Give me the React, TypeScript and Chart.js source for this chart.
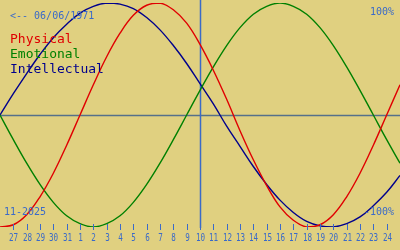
import React, { useEffect, useRef } from "react";
import { Chart, registerables } from "chart.js";

Chart.register(...registerables);

// Day index 0..30 (Oct 26 .. Nov 25, 2025); today = index 15 (Nov 10)
const DAY_INDEX = Array.from({ length: 31 }, (_, i) => i);
const DAY_LABELS = [
  "27", "28", "29", "30", "31", "1", "2", "3", "4", "5", "6", "7", "8", "9", "10",
  "11", "12", "13", "14", "15", "16", "17", "18", "19", "20", "21", "22", "23", "24",
];
const TODAY_INDEX = 15;

const PHYSICAL = [
  -100, -98, -89, -73, -52, -27, 0, 27, 52, 73, 89, 98, 100, 94, 82, 63, 40, 14,
  -14, -40, -63, -82, -94, -100, -98, -89, -73, -52, -27, 0, 27,
];
const EMOTIONAL = [
  0, -22, -43, -62, -78, -90, -97, -100, -97, -90, -78, -62, -43, -22, 0, 22, 43,
  62, 78, 90, 97, 100, 97, 90, 78, 62, 43, 22, 0, -22, -43,
];
const INTELLECTUAL = [
  0, 19, 37, 54, 69, 81, 91, 97, 100, 99, 95, 87, 76, 62, 46, 28, 10, -10, -28,
  -46, -62, -76, -87, -95, -99, -100, -97, -91, -81, -69, -54,
];

const SERIES_NAMES = ["Physical", "Emotional", "Intellectual"];
const SERIES_COLORS = ["#e00000", "#008000", "#00008c"];
const BIRTH_TEXT = "<-- 06/06/1971";
const MONTH_TEXT = "11-2025";
const TOP_TEXT = "100%";
const BOTTOM_TEXT = "-100%";

const BG = "#e0d080";
const TEXT_BLUE = "#3a6ac8";
const MONO = '"DejaVu Sans Mono", "Liberation Mono", monospace';

const overlayPlugin = {
  id: "bioOverlay",
  beforeDatasetsDraw(chart: any) {
    const { ctx, chartArea } = chart;
    const xs = chart.scales.x;
    const ys = chart.scales.y;
    ctx.save();
    const y0 = Math.round(ys.getPixelForValue(0)) + 0.5;
    ctx.strokeStyle = "#55708a";
    ctx.lineWidth = 1.5;
    ctx.beginPath();
    ctx.moveTo(chartArea.left, y0);
    ctx.lineTo(chartArea.right, y0);
    ctx.stroke();
    const xt = Math.round(xs.getPixelForValue(TODAY_INDEX)) + 0.5;
    ctx.strokeStyle = TEXT_BLUE;
    ctx.lineWidth = 1.5;
    ctx.beginPath();
    ctx.moveTo(xt, 0);
    ctx.lineTo(xt, chartArea.bottom + 1);
    ctx.stroke();
    ctx.restore();
  },
  afterDraw(chart: any) {
    const { ctx, chartArea } = chart;
    const xs = chart.scales.x;
    ctx.save();
    ctx.strokeStyle = TEXT_BLUE;
    ctx.fillStyle = TEXT_BLUE;
    ctx.lineWidth = 1;
    ctx.font = `10px ${MONO}`;
    ctx.textAlign = "center";
    ctx.textBaseline = "middle";
    DAY_LABELS.forEach((lab, i) => {
      const x = Math.round(xs.getPixelForValue(i + 1)) + 0.5;
      ctx.beginPath();
      ctx.moveTo(x, chartArea.bottom - 3);
      ctx.lineTo(x, chartArea.bottom + 3);
      ctx.stroke();
      ctx.save();
      ctx.translate(x, 238);
      ctx.scale(0.76, 1);
      ctx.fillText(lab, 0, 0);
      ctx.restore();
    });
    ctx.textAlign = "left";
    ctx.fillText(BIRTH_TEXT, 10, 16);
    ctx.fillText(MONTH_TEXT, 4, 212);
    ctx.textAlign = "right";
    ctx.fillText(TOP_TEXT, 394, 12);
    ctx.fillText(BOTTOM_TEXT, 394, 212);
    ctx.textAlign = "left";
    ctx.textBaseline = "alphabetic";
    ctx.font = `13px ${MONO}`;
    SERIES_NAMES.forEach((n, i) => {
      ctx.fillStyle = SERIES_COLORS[i];
      ctx.fillText(n, 10, 43 + i * 15);
    });
    ctx.restore();
  },
};

export default function App() {
  const ref = useRef<HTMLCanvasElement | null>(null);
  useEffect(() => {
    if (!ref.current) return;
    const series = [PHYSICAL, EMOTIONAL, INTELLECTUAL];
    const chart = new Chart(ref.current, {
      type: "line",
      data: {
        datasets: series.map((vals, i) => ({
          label: SERIES_NAMES[i],
          data: vals.map((v, j) => ({ x: DAY_INDEX[j], y: v })),
          borderColor: SERIES_COLORS[i],
          borderWidth: 1.4,
          pointRadius: 0,
          tension: 0.4,
          fill: false,
        })),
      },
      options: {
        animation: false,
        responsive: false,
        devicePixelRatio: 1,
        layout: { padding: { top: 3, bottom: 23, left: 0, right: 0 } },
        plugins: { legend: { display: false }, tooltip: { enabled: false } },
        scales: {
          x: { type: "linear", min: 0, max: 30, display: false },
          y: { type: "linear", min: -100, max: 100, display: false },
        },
      },
      plugins: [overlayPlugin],
    });
    return () => chart.destroy();
  }, []);
  return (
    <div
      style={{
        position: "fixed",
        left: 0,
        top: 0,
        width: 400,
        height: 250,
        background: BG,
      }}
    >
      <canvas ref={ref} width={400} height={250} />
    </div>
  );
}
